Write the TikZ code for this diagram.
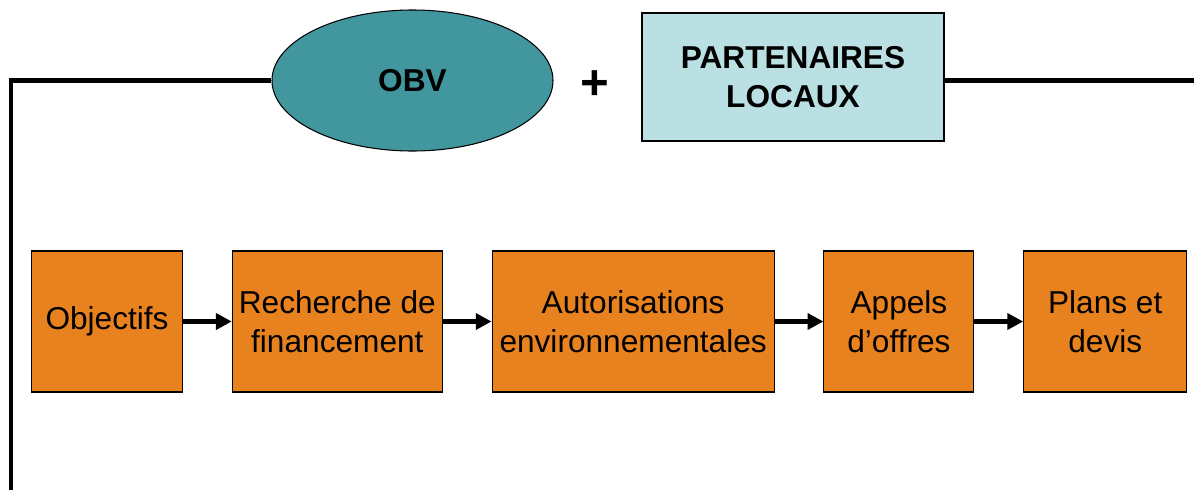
\documentclass[tikz,border=0pt]{standalone}
\usepackage{fontspec}
\setmainfont{Liberation Sans}
\usetikzlibrary{arrows.meta,positioning,shapes.geometric}
\definecolor{tealobv}{RGB}{66,150,158}
\definecolor{lightpart}{RGB}{186,224,227}
\definecolor{orangebox}{RGB}{232,130,30}

\begin{document}
\begin{tikzpicture}[every node/.style={font=\fontsize{18}{22}\selectfont},
  node distance=0.975cm,
  etape/.style={draw=black, line width=0.6pt, fill=orangebox, minimum height=2.82cm, inner sep=0pt, align=center},
  fleche/.style={-{Triangle[length=9pt,width=9pt]}, line width=2.4pt},
  cadre/.style={line width=2.8pt, line join=miter}]
\useasboundingbox (0,0) rectangle (23.88,-9.78);
% top row
\node[ellipse, draw, line width=0.6pt, fill=tealobv, minimum width=5.62cm, minimum height=2.82cm, inner sep=0pt, font=\fontsize{18}{22}\selectfont\bfseries] (obv) at (8.25,-1.61) {OBV};
\node[font=\fontsize{28}{30}\selectfont\bfseries] (plus) at (11.9,-1.7) {+};
\node[draw, line width=0.6pt, fill=lightpart, minimum width=6.04cm, minimum height=2.56cm, align=center, font=\fontsize{18}{22}\selectfont\bfseries] (part) at (15.86,-1.54) {PARTENAIRES\\LOCAUX};
% frame line
\coordinate (bas) at (0.22,-9.9);
\coordinate (droite) at (24.0,-1.61);
\draw[cadre] (obv.west) -| (bas);
\draw[cadre] (part.east |- droite) -- (droite);
% steps
\node[etape, minimum width=3.02cm, anchor=west] (obj) at (0.62,-6.43) {Objectifs};
\node[etape, minimum width=4.2cm, right=of obj] (fin) {Recherche de\\financement};
\node[etape, minimum width=5.64cm, right=of fin] (aut) {Autorisations\\environnementales};
\node[etape, minimum width=3.0cm, right=of aut] (app) {Appels\\d’offres};
\node[etape, minimum width=3.26cm, right=of app] (plans) {Plans et\\devis};
\draw[fleche] (obj) -- (fin);
\draw[fleche] (fin) -- (aut);
\draw[fleche] (aut) -- (app);
\draw[fleche] (app) -- (plans);
\end{tikzpicture}
\end{document}
